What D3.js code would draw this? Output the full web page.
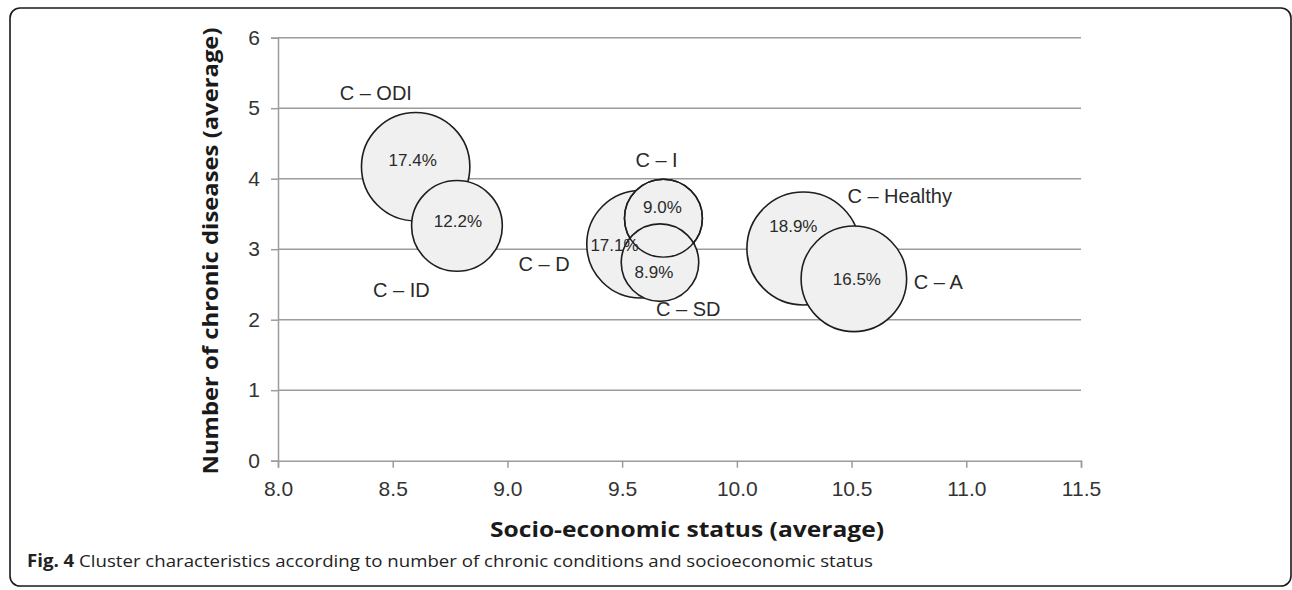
<!DOCTYPE html>
<html>
<head>
<meta charset="utf-8">
<script src="https://cdnjs.cloudflare.com/ajax/libs/d3/7.8.5/d3.min.js"></script>
<style>
  body { margin: 0; background: #fff; }
  svg { display: block; }
</style>
</head>
<body>
<div id="main"></div>
<script>
// cluster data
var clusters = ["C \u2013 ODI", "C \u2013 ID", "C \u2013 D", "C \u2013 I", "C \u2013 SD", "C \u2013 Healthy", "C \u2013 A"];
var ses      = [8.60, 8.78, 9.58, 9.68, 9.665, 10.29, 10.51];
var chronic  = [4.17, 3.33, 3.07, 3.44, 2.81, 3.01, 2.58];
var share    = [17.4, 12.2, 17.1, 9.0, 8.9, 18.9, 16.5];

var xTicks = [8.0, 8.5, 9.0, 9.5, 10.0, 10.5, 11.0, 11.5];
var yTicks = [0, 1, 2, 3, 4, 5, 6];

var xTitle = "Socio-economic status (average)";
var yTitle = "Number of chronic diseases (average)";
var captionBold = "Fig. 4";
var captionText = " Cluster characteristics according to number of chronic conditions and socioeconomic status";

var width = 1292, height = 590;
var plot = { left: 278, right: 1081, top: 37.7, bottom: 460.7 };

// hand placed annotation offsets (px from bubble centre)
var nameNudge = {
  "C \u2013 ODI": [-76, -74], "C \u2013 ID": [-84, 64], "C \u2013 D": [-122, 20],
  "C \u2013 I": [-28, -58], "C \u2013 SD": [-4, 46], "C \u2013 Healthy": [44, -52], "C \u2013 A": [60, 3]
};
var pctNudge = {
  "C \u2013 ODI": [-3, -6], "C \u2013 ID": [1, -4], "C \u2013 D": [-26, 1],
  "C \u2013 I": [-1, -11], "C \u2013 SD": [-6, 10], "C \u2013 Healthy": [-10, -22], "C \u2013 A": [3, 1]
};

var data = clusters.map(function(c, i){
  return { name: c, x: ses[i], y: chronic[i], p: share[i] };
});

var svg = d3.select("#main").append("svg")
  .attr("width", width)
  .attr("height", height);

// frame
svg.append("rect")
  .attr("x", 10).attr("y", 8)
  .attr("width", 1281).attr("height", 578)
  .attr("rx", 10).attr("ry", 10)
  .attr("fill", "none")
  .attr("stroke", "#1a1a1a")
  .attr("stroke-width", 1.6);

var x = d3.scaleLinear().domain([8, 11.5]).range([plot.left, plot.right]);
var y = d3.scaleLinear().domain([0, 6]).range([plot.bottom, plot.top]);
var r = d3.scaleSqrt().domain([0, 20]).range([0, 58.1]);

var grey = "#9c9c9c";

// gridlines
svg.append("g").selectAll("line")
  .data(yTicks.filter(function(d){ return d > 0; }))
  .enter().append("line")
    .attr("x1", plot.left).attr("x2", plot.right)
    .attr("y1", function(d){ return y(d); })
    .attr("y2", function(d){ return y(d); })
    .attr("stroke", grey)
    .attr("stroke-width", 1.5);

// y axis
var yAxis = svg.append("g")
  .attr("transform", "translate(" + plot.left + ",0)")
  .call(d3.axisLeft(y).tickValues(yTicks).tickFormat(d3.format("d")).tickSize(7).tickPadding(11));

// x axis
var xAxis = svg.append("g")
  .attr("transform", "translate(0," + plot.bottom + ")")
  .call(d3.axisBottom(x).tickValues(xTicks).tickFormat(d3.format(".1f")).tickSize(7).tickPadding(13));

[xAxis, yAxis].forEach(function(a){
  a.select(".domain").attr("stroke", grey).attr("stroke-width", 1.5);
  a.selectAll(".tick line").attr("stroke", grey).attr("stroke-width", 1.5);
  a.selectAll(".tick text")
    .attr("fill", "#333")
    .style("font-family", "'Liberation Sans', Arial, sans-serif")
    .style("font-size", "21px");
});

// bubbles
var bubbles = svg.append("g");
bubbles.selectAll("circle")
  .data(data)
  .enter().append("circle")
    .attr("cx", function(d){ return x(d.x); })
    .attr("cy", function(d){ return y(d.y); })
    .attr("r", function(d){ return r(d.p); })
    .attr("fill", "#f0f0f0")
    .attr("stroke", "#1e1e1e")
    .attr("stroke-width", 1.6);

// C - I outline shows through C - SD
bubbles.selectAll("circle.outline")
  .data(data.filter(function(d){ return d.name === "C \u2013 I"; }))
  .enter().append("circle")
    .attr("class", "outline")
    .attr("cx", function(d){ return x(d.x); })
    .attr("cy", function(d){ return y(d.y); })
    .attr("r", function(d){ return r(d.p); })
    .attr("fill", "none")
    .attr("stroke", "#1e1e1e")
    .attr("stroke-width", 1.4);

// percentage labels
svg.append("g").selectAll("text")
  .data(data)
  .enter().append("text")
    .attr("x", function(d){ return x(d.x) + pctNudge[d.name][0]; })
    .attr("y", function(d){ return y(d.y) + pctNudge[d.name][1]; })
    .attr("text-anchor", "middle")
    .attr("dominant-baseline", "central")
    .attr("fill", "#2a2a2a")
    .style("font-family", "'Liberation Sans', Arial, sans-serif")
    .style("font-size", "17px")
    .text(function(d){ return d3.format(".1f")(d.p) + "%"; });

// cluster names
svg.append("g").selectAll("text")
  .data(data)
  .enter().append("text")
    .attr("x", function(d){ return x(d.x) + nameNudge[d.name][0]; })
    .attr("y", function(d){ return y(d.y) + nameNudge[d.name][1]; })
    .attr("dominant-baseline", "central")
    .attr("fill", "#2a2a2a")
    .style("font-family", "'Liberation Sans', Arial, sans-serif")
    .style("font-size", "20px")
    .text(function(d){ return d.name; });

// axis titles
svg.append("text")
  .attr("x", 687)
  .attr("y", 537)
  .attr("text-anchor", "middle")
  .attr("textLength", 394)
  .attr("lengthAdjust", "spacingAndGlyphs")
  .attr("fill", "#1a1a1a")
  .style("font-family", "'Open Sans', sans-serif")
  .style("font-weight", "700")
  .style("font-size", "22px")
  .text(xTitle);

svg.append("text")
  .attr("transform", "translate(218," + 251 + ") rotate(-90)")
  .attr("text-anchor", "middle")
  .attr("textLength", 447)
  .attr("lengthAdjust", "spacingAndGlyphs")
  .attr("fill", "#1a1a1a")
  .style("font-family", "'Open Sans', sans-serif")
  .style("font-weight", "700")
  .style("font-size", "22px")
  .text(yTitle);

// caption
var caption = svg.append("text")
  .attr("x", 27)
  .attr("y", 567)
  .attr("textLength", 846)
  .attr("lengthAdjust", "spacingAndGlyphs")
  .attr("fill", "#222")
  .style("font-family", "'Open Sans', sans-serif")
  .style("font-size", "17px");
caption.append("tspan").style("font-weight", "700").text(captionBold);
caption.append("tspan").text(captionText);
</script>
</body>
</html>
